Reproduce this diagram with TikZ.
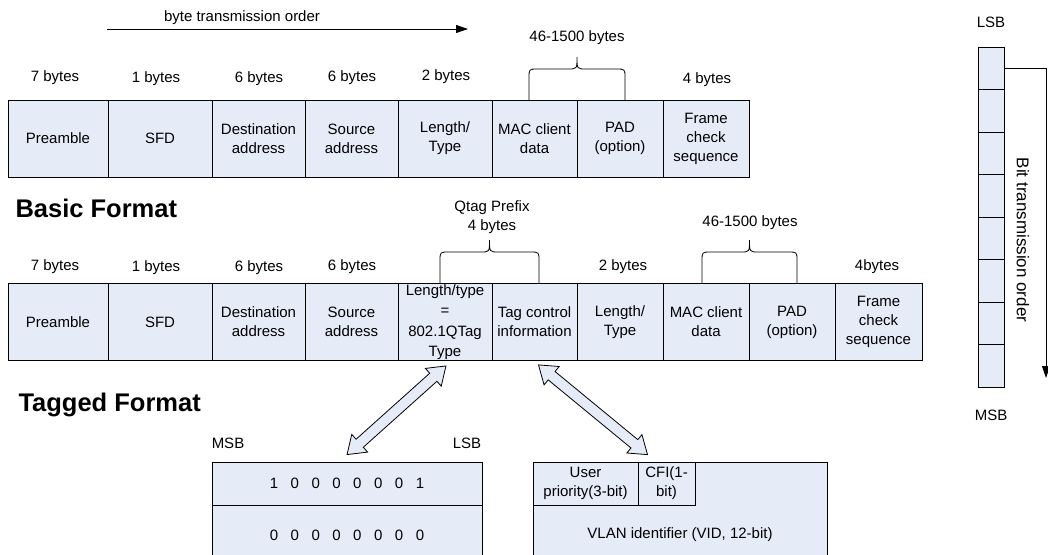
\documentclass[tikz,border=0pt]{standalone}
\usepackage{fontspec}
\setmainfont{Liberation Sans}
\usetikzlibrary{arrows.meta,shapes.arrows,calc}
\definecolor{cellfill}{RGB}{230,236,247}

% curly brace with long legs, over two fields
\newcommand{\sizebrace}[3]{%
  \draw[line width=0.8pt] ({#1},{#3}) -- ({#1},{#3-22})
    .. controls ({#1},{#3-31}) .. ({#1+9},{#3-31})
    -- ({(#1+#2)/2-9},{#3-31})
    .. controls ({(#1+#2)/2},{#3-31}) .. ({(#1+#2)/2},{#3-43})
    .. controls ({(#1+#2)/2},{#3-31}) .. ({(#1+#2)/2+9},{#3-31})
    -- ({#2-9},{#3-31})
    .. controls ({#2},{#3-31}) .. ({#2},{#3-22}) -- ({#2},{#3});}

% hollow two-headed arrow between two named points
\newcommand{\hollowarrow}[2]{%
  \path let \p1=($(#2)-(#1)$), \n1={atan2(\y1,\x1)}, \n2={veclen(\x1,\y1)} in
    node[hollow, rotate=\n1, minimum height=\n2] at ($(#1)!0.5!(#2)$) {};}

\newcommand{\bitgap}{\hspace{12.5pt}}

\begin{document}
\begin{tikzpicture}[x=1pt, y=-1pt,
  every node/.style={font=\fontsize{15}{19}\selectfont},
  field/.style={draw, fill=cellfill, line width=0.8pt, inner sep=0pt, align=center, minimum height=77pt},
  bitcell/.style={draw, fill=cellfill, line width=0.8pt, inner sep=0pt, minimum width=26pt, minimum height=42.5pt},
  heading/.style={font=\fontsize{25.5}{30}\selectfont\bfseries, anchor=west},
  hollow/.style={double arrow, draw, fill=cellfill, line width=0.8pt, inner xsep=0pt, inner ysep=5pt,
    minimum width=23pt, double arrow head extend=6.5pt, double arrow tip angle=70},
  order/.style={-{Triangle[length=12pt,width=8pt]}, line width=0.8pt}]

  \useasboundingbox (0,0) rectangle (1048,554);

  % byte transmission order
  \node (bolbl) at (242,18) {byte transmission order};
  \coordinate (bo1) at (107,29);
  \coordinate (bo2) at (468,29);
  \draw[order] (bo1) -- (bo2);

  % Basic format: sizes
  \node (bs1) at (55,78) {7 bytes};
  \node (bs2) at (156,79) {1 bytes};
  \node (bs3) at (259,79) {6 bytes};
  \node (bs4) at (352,78) {6 bytes};
  \node (bs5) at (446,77) {2 bytes};
  \node (bs8) at (707,80) {4 bytes};
  \node (bsd) at (577,38) {46-1500 bytes};
  \sizebrace{529}{625}{100}

  % Basic format: fields
  \node[field, minimum width=100pt] (b1) at (58,138.5) {Preamble};
  \node[field, minimum width=104pt] (b2) at (160,138.5) {SFD};
  \node[field, minimum width=93pt] (b3) at (258.5,138.5) {Destination\\address};
  \node[field, minimum width=93pt] (b4) at (351.5,138.5) {Source\\address};
  \node[field, minimum width=94pt] (b5) at (445,138.5) {Length/\\Type};
  \node[field, minimum width=85pt] (b6) at (534.5,138.5) {MAC client\\data};
  \node[field, minimum width=86pt] (b7) at (620,138.5) {PAD\\(option)};
  \node[field, minimum width=86pt] (b8) at (706,138.5) {Frame\\check\\sequence};

  \node[heading] (basic) at (12,208) {Basic Format};

  % Tagged format: sizes
  \node (ts1) at (55,267) {7 bytes};
  \node (ts2) at (156,268) {1 bytes};
  \node (ts3) at (259,268) {6 bytes};
  \node (ts4) at (352,267) {6 bytes};
  \node[align=center] (tsq) at (492,217) {Qtag Prefix\\4 bytes};
  \node (ts7) at (623,267) {2 bytes};
  \node (tsd) at (750,223) {46-1500 bytes};
  \node (ts10) at (877,267) {4bytes};
  \sizebrace{440}{539}{283}
  \sizebrace{702}{797}{283}

  % Tagged format: fields
  \node[field, minimum width=100pt] (t1) at (58,322) {Preamble};
  \node[field, minimum width=104pt] (t2) at (160,322) {SFD};
  \node[field, minimum width=93pt] (t3) at (258.5,322) {Destination\\address};
  \node[field, minimum width=93pt] (t4) at (351.5,322) {Source\\address};
  \node[field, minimum width=94pt, font=\fontsize{15}{20.5}\selectfont] (t5) at (445,322)
    {Length/type\\=\\802.1QTag\\Type};
  \node[field, minimum width=85pt] (t6) at (534.5,322) {Tag control\\information};
  \node[field, minimum width=86pt] (t7) at (620,322) {Length/\\Type};
  \node[field, minimum width=86pt] (t8) at (706,322) {MAC client\\data};
  \node[field, minimum width=86pt] (t9) at (792,322) {PAD\\(option)};
  \node[field, minimum width=87pt] (t10) at (878.5,322) {Frame\\check\\sequence};

  \node[heading] (tagged) at (15,405) {Tagged Format};

  % Tag type bytes
  \node (msb) at (228,443) {MSB};
  \node (lsb) at (467,443) {LSB};
  \node[field, minimum width=270pt, minimum height=43pt] (ty1) at (347,483.5)
    {1\bitgap 0\bitgap 0\bitgap 0\bitgap 0\bitgap 0\bitgap 0\bitgap 1};
  \node[field, minimum width=270pt, minimum height=60pt] (ty2) at (347,535)
    {0\bitgap 0\bitgap 0\bitgap 0\bitgap 0\bitgap 0\bitgap 0\bitgap 0};

  % Tag control information
  \node[field, minimum width=294pt, minimum height=146pt] (vid) at (680,535) {VLAN identifier (VID, 12-bit)};
  \node[field, minimum width=105pt, minimum height=43pt] (prio) at (585.5,483.5) {User\\priority(3-bit)};
  \node[field, minimum width=57pt, minimum height=43pt] (cfi) at (666.5,483.5) {CFI(1-\\bit)};

  % hollow arrows
  \coordinate (qa1) at ($(t5.south)+(1,5)$);
  \coordinate (qa2) at ($(ty1.north)+(0,-7)$);
  \coordinate (qb1) at ($(t6.south)+(4,4)$);
  \coordinate (qb2) at ($(cfi.north)+(-19,-7)$);
  \hollowarrow{qa1}{qa2}
  \hollowarrow{qb1}{qb2}

  % Bit order column
  \node (bitlsb) at (991,22) {LSB};
  \foreach \i in {1,...,8}
    \node[bitcell] (bc\i) at (991,{47+42.5*(\i-0.5)}) {};
  \node (bitmsb) at (991,415) {MSB};
  \coordinate (bitend) at (1046,378);
  \draw[order] (bc1.east) -| (bitend);
  \node[rotate=-90, font=\fontsize{17}{20}\selectfont] (bitlbl) at (1023,240) {Bit transmission order};
\end{tikzpicture}
\end{document}
